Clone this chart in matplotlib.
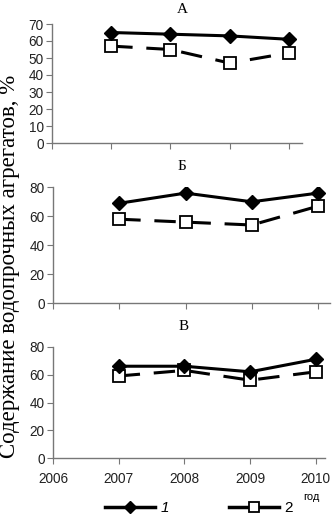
import matplotlib
matplotlib.use("Agg")
import matplotlib.pyplot as plt
from matplotlib.lines import Line2D

years = [2007, 2008, 2009, 2010]
a_s1 = [65, 64, 63, 61]
a_s2 = [57, 55, 47, 53]
b_s1 = [69, 76, 70, 76]
b_s2 = [58, 56, 54, 67]
c_s1 = [66, 66, 62, 71]
c_s2 = [59, 63, 56, 62]
titles = ["А", "Б", "В"]
xticks = [2006, 2007, 2008, 2009, 2010]

W, H = 334, 517
fig = plt.figure(figsize=(W / 100, H / 100), dpi=100)

def rect(l, r, ytop, ybot):
    return [l / W, 1 - ybot / H, (r - l) / W, (ybot - ytop) / H]

panels = [
    (rect(52, 302, 24, 143), a_s1, a_s2, (0, 70), range(0, 71, 10), 2010.22, False, (182, 9)),
    (rect(53, 330, 187.3, 303.3), b_s1, b_s2, (0, 80), range(0, 81, 20), 2010.18, False, (182, 167)),
    (rect(53, 325, 346.7, 458.3), c_s1, c_s2, (0, 80), range(0, 81, 20), 2010.14, True, (184, 327)),
]

sans = "Liberation Sans"
serif = "Liberation Serif"
for (pos, s1, s2, ylim, yt, xmax, showx, tpos), title in zip(panels, titles):
    ax = fig.add_axes(pos)
    ax.plot(years, s2, color="black", lw=2.2, ls=(0, (7, 4.5)), marker="s",
            ms=9, mfc="white", mec="black", mew=1.3, zorder=2)
    ax.plot(years, s1, color="black", lw=2.2, marker="D", ms=7,
            mfc="black", mec="black", zorder=3)
    ax.set_ylim(*ylim)
    ax.set_xlim(2006, xmax)
    ax.set_yticks(list(yt))
    ax.set_xticks(xticks)
    for sp in ("top", "right"):
        ax.spines[sp].set_visible(False)
    for sp in ("left", "bottom"):
        ax.spines[sp].set_color("#777777")
        ax.spines[sp].set_linewidth(1.0)
    ax.tick_params(axis="both", direction="out", length=4, color="#777777",
                   labelsize=9.8, pad=2, labelcolor="#222222")
    for t in ax.get_yticklabels() + ax.get_xticklabels():
        t.set_fontfamily(sans)
    if not showx:
        ax.tick_params(axis="x", labelbottom=False)
    else:
        ax.tick_params(axis="x", pad=6)
    fig.text(tpos[0] / W, 1 - tpos[1] / H, title, ha="center", va="center",
             fontfamily=serif, fontsize=11)

fig.text(9.5 / W, 1 - 266 / H, "Содержание водопрочных агрегатов, %", rotation=90,
         ha="center", va="center", fontfamily=serif, fontsize=16.5)
fig.text(311 / W, 1 - 497 / H, "год", ha="center", va="center",
         fontfamily=sans, fontsize=8)

h1 = Line2D([], [], color="black", lw=2.5, marker="D", ms=6, mfc="black")
h2 = Line2D([], [], color="black", lw=2.5, marker="s", ms=7,
            mfc="white", mec="black", mew=1.3)
leg = fig.legend([h1, h2], ["1", "2"], ncol=2, loc="center",
                 bbox_to_anchor=(199 / W, 1 - 508 / H), frameon=False,
                 handlelength=3.3, columnspacing=3.9, handletextpad=0.35,
                 prop={"family": sans, "size": 11})
leg.get_texts()[0].set_fontstyle("italic")

fig.savefig("out.png", dpi=100)
